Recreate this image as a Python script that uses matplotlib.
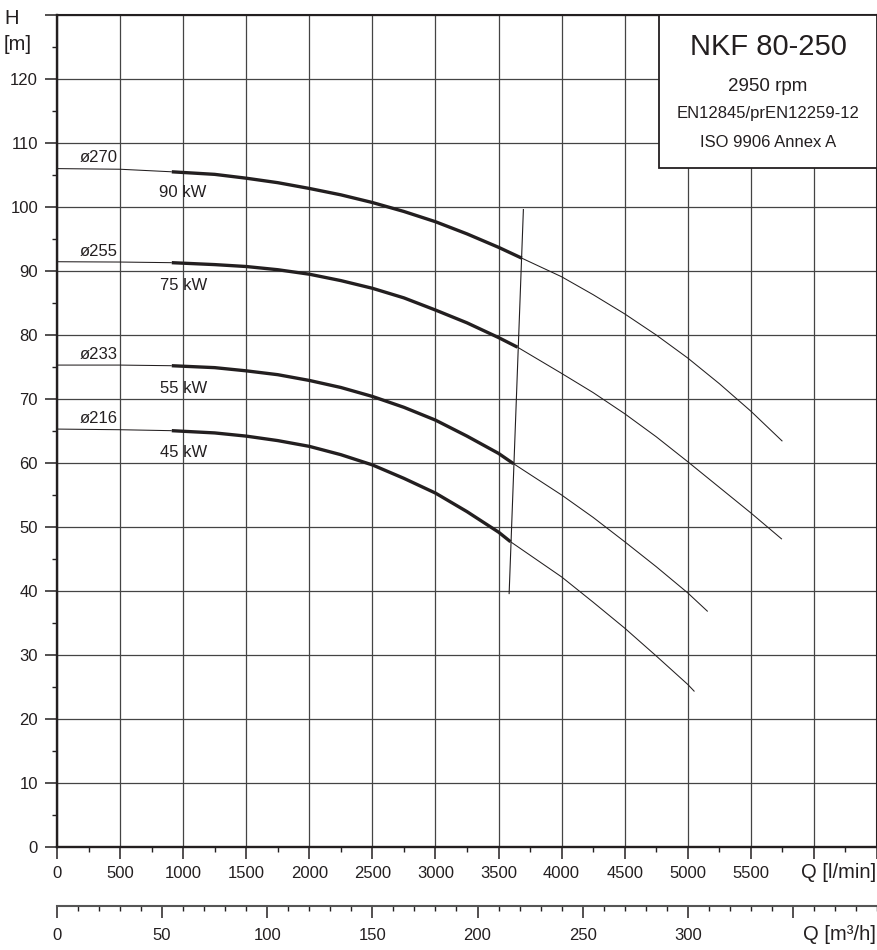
import matplotlib
matplotlib.use('Agg')
import matplotlib.pyplot as plt
from matplotlib.ticker import MultipleLocator, FuncFormatter
from matplotlib.patches import Rectangle

plt.rcParams['font.family'] = ['Liberation Sans', 'DejaVu Sans']

# ---------------- data ----------------
diameters = ['ø270', 'ø255', 'ø233', 'ø216']
powers = ['90 kW', '75 kW', '55 kW', '45 kW']

# ø270
q270_start = [0, 500, 910]
h270_start = [106.0, 105.9, 105.5]
q270_duty = [910, 1250, 1500, 1750, 2000, 2250, 2500, 2750, 3000, 3250, 3500, 3685]
h270_duty = [105.5, 105.1, 104.5, 103.8, 102.9, 101.9, 100.7, 99.3, 97.7, 95.8, 93.7, 92.0]
q270_end = [3685, 4000, 4250, 4500, 4750, 5000, 5250, 5500, 5750]
h270_end = [92.0, 89.1, 86.3, 83.3, 80.0, 76.4, 72.4, 68.1, 63.4]

# ø255
q255_start = [0, 500, 910]
h255_start = [91.45, 91.4, 91.3]
q255_duty = [910, 1250, 1500, 1750, 2000, 2250, 2500, 2750, 3000, 3250, 3500, 3650]
h255_duty = [91.3, 91.0, 90.7, 90.2, 89.5, 88.5, 87.3, 85.8, 83.9, 81.9, 79.6, 78.1]
q255_end = [3650, 4000, 4250, 4500, 4750, 5000, 5250, 5500, 5746]
h255_end = [78.1, 74.0, 71.0, 67.7, 64.1, 60.2, 56.2, 52.2, 48.1]

# ø233
q233_start = [0, 500, 910]
h233_start = [75.3, 75.3, 75.2]
q233_duty = [910, 1250, 1500, 1750, 2000, 2250, 2500, 2750, 3000, 3250, 3500, 3618]
h233_duty = [75.2, 74.9, 74.4, 73.8, 72.9, 71.8, 70.4, 68.7, 66.7, 64.2, 61.5, 59.9]
q233_end = [3618, 4000, 4250, 4500, 4750, 5000, 5158]
h233_end = [59.9, 55.0, 51.5, 47.7, 43.8, 39.7, 36.8]

# ø216
q216_start = [0, 500, 910]
h216_start = [65.3, 65.2, 65.05]
q216_duty = [910, 1250, 1500, 1750, 2000, 2250, 2500, 2750, 3000, 3250, 3500, 3595]
h216_duty = [65.05, 64.7, 64.2, 63.5, 62.6, 61.3, 59.7, 57.6, 55.3, 52.4, 49.2, 47.7]
q216_end = [3595, 4000, 4250, 4500, 4750, 5000, 5053]
h216_end = [47.7, 42.2, 38.25, 34.2, 29.85, 25.4, 24.3]

# operating limit line
limit_q = [3697, 3584]
limit_h = [99.6, 39.6]

q_max = 6500          # l/min
h_max = 130           # m
q_major = 500
h_major = 10

title = 'NKF 80-250'
info_lines = ['2950 rpm', 'EN12845/prEN12259-12', 'ISO 9906 Annex A']

curves = [
    (q270_start, h270_start, q270_duty, h270_duty, q270_end, h270_end),
    (q255_start, h255_start, q255_duty, h255_duty, q255_end, h255_end),
    (q233_start, h233_start, q233_duty, h233_duty, q233_end, h233_end),
    (q216_start, h216_start, q216_duty, h216_duty, q216_end, h216_end),
]

# ---------------- figure ----------------
W, H = 878, 950
fig = plt.figure(figsize=(W / 100, H / 100), dpi=100)
fig.patch.set_facecolor('white')
TXT = '#231f20'
GRID = '#444444'

ax = fig.add_axes([57 / W, 1 - 847 / H, 820 / W, 832 / H])
ax.set_xlim(0, q_max)
ax.set_ylim(0, h_max)

ax.xaxis.set_major_locator(MultipleLocator(q_major))
ax.xaxis.set_minor_locator(MultipleLocator(q_major / 2))
ax.yaxis.set_major_locator(MultipleLocator(h_major))
ax.yaxis.set_minor_locator(MultipleLocator(h_major / 2))
ax.xaxis.set_major_formatter(FuncFormatter(lambda v, p: f'{int(round(v))}' if v <= 5500 else ''))
ax.yaxis.set_major_formatter(FuncFormatter(lambda v, p: f'{int(round(v))}' if v <= 120 else ''))

ax.tick_params(axis='both', which='major', length=8.6, width=1.1, color=TXT,
               labelsize=12, labelcolor=TXT, pad=5)
ax.tick_params(axis='both', which='minor', length=3.6, width=1.0, color=TXT)
ax.tick_params(axis='x', which='major', pad=5)

ax.grid(True, which='major', color=GRID, linewidth=0.9, zorder=0)
ax.set_axisbelow(True)
for side in ['left', 'bottom', 'top', 'right']:
    ax.spines[side].set_linewidth(1.5)
    ax.spines[side].set_color(TXT)
ax.spines['left'].set_linewidth(1.7)
ax.spines['bottom'].set_linewidth(1.7)

# curves
for (qs, hs, qd, hd, qe, he), dlab, plab in zip(curves, diameters, powers):
    ax.plot(qs, hs, color=TXT, lw=0.75, zorder=3, solid_capstyle='butt')
    ax.plot(qd, hd, color=TXT, lw=2.4, zorder=4, solid_capstyle='butt')
    ax.plot(qe, he, color=TXT, lw=0.75, zorder=3, solid_capstyle='butt')
    ax.text(485, hs[0] + 0.5, dlab, ha='right', va='bottom', fontsize=12, color=TXT, zorder=5)
    ax.text(1000, hs[0] - 3.7, plab, ha='center', va='center', fontsize=12, color=TXT, zorder=5)

ax.plot(limit_q, limit_h, color=TXT, lw=0.8, zorder=4)

# info box
bx0 = (659 - 57) / 820
by0 = (847 - 168) / 832
ax.add_patch(Rectangle((bx0, by0), 1 - bx0, 1 - by0, transform=ax.transAxes,
                       facecolor='white', edgecolor=TXT, linewidth=1.3, zorder=6,
                       clip_on=False))
cx = (768 - 57) / 820
ax.text(cx, (847 - 47) / 832, title, transform=ax.transAxes, ha='center', va='center',
        fontsize=21, color=TXT, zorder=7)
for line, ypx, fs in zip(info_lines, [87, 114, 143], [13.5, 12, 12]):
    ax.text(cx, (847 - ypx) / 832, line, transform=ax.transAxes, ha='center', va='center',
            fontsize=fs, color=TXT, zorder=7)

# axis labels
fig.text(12 / W, 1 - 18 / H, 'H', ha='center', va='center', fontsize=14.5, color=TXT)
fig.text(18 / W, 1 - 45 / H, '[m]', ha='center', va='center', fontsize=14.5, color=TXT)
fig.text(876 / W, 1 - 873 / H, 'Q [l/min]', ha='right', va='center', fontsize=14.5, color=TXT)
fig.text(876 / W, 1 - 934 / H, 'Q [m³/h]', ha='right', va='center', fontsize=14.5, color=TXT)

# secondary flow axis in m3/h
ax2 = fig.add_axes([57 / W, 1 - 906 / H, 820 / W, 0.0001])
ax2.set_xlim(0, q_max * 60 / 1000)
ax2.set_ylim(0, 1)
ax2.patch.set_visible(False)
for side in ['left', 'right', 'top']:
    ax2.spines[side].set_visible(False)
ax2.spines['bottom'].set_linewidth(1.5)
ax2.spines['bottom'].set_color('#555555')
ax2.set_yticks([])
ax2.xaxis.set_major_locator(MultipleLocator(50))
ax2.xaxis.set_minor_locator(MultipleLocator(10))
ax2.xaxis.set_major_formatter(FuncFormatter(lambda v, p: f'{int(round(v))}' if v <= 300 else ''))
ax2.tick_params(axis='x', which='major', length=8.6, width=1.1, color=TXT,
                labelsize=12, labelcolor=TXT, pad=7)
ax2.tick_params(axis='x', which='minor', length=3.6, width=1.0, color=TXT)

fig.savefig('out.png', dpi=100, facecolor='white')
